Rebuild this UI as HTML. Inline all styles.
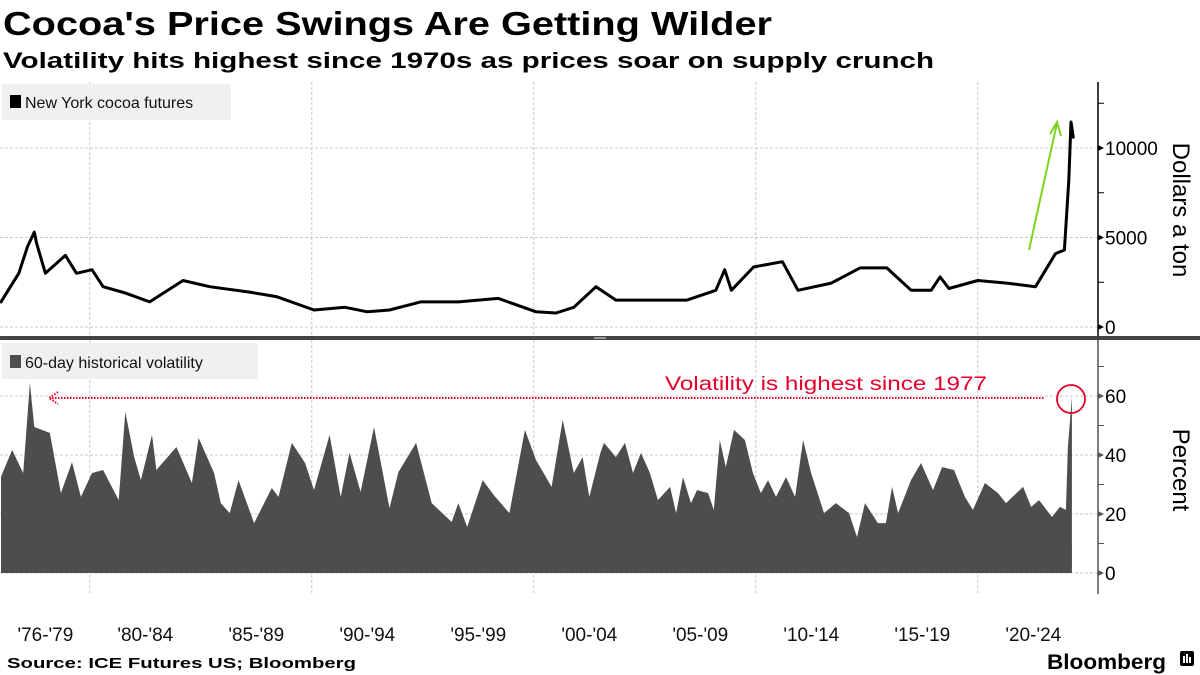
<!DOCTYPE html>
<html><head><meta charset="utf-8"><style>
html,body{margin:0;padding:0;background:#fff;}
svg{display:block;font-family:"Liberation Sans",sans-serif;}
</style></head><body>
<svg id="chart" width="1200" height="675" viewBox="0 0 1200 675" xmlns="http://www.w3.org/2000/svg">
<text x="3" y="35" font-size="33" font-weight="bold" fill="#000" textLength="769" lengthAdjust="spacingAndGlyphs">Cocoa's Price Swings Are Getting Wilder</text>
<text x="3" y="68" font-size="22" font-weight="bold" fill="#000" textLength="931" lengthAdjust="spacingAndGlyphs">Volatility hits highest since 1970s as prices soar on supply crunch</text>
<g id="grid"></g>
<g id="marks"></g>
<g id="axes"></g>
<rect x="0" y="336" width="1200" height="4" fill="#444"/>
<rect x="594" y="337" width="12" height="2" fill="#999"/>
<rect x="2" y="84" width="229" height="36" fill="#f0f0f0"/>
<rect x="10" y="95" width="11" height="13" fill="#000"/>
<text x="25" y="108" font-size="16" fill="#111">New York cocoa futures</text>
<rect x="2" y="343" width="256" height="36" fill="#f0f0f0"/>
<rect x="10" y="355" width="11" height="13" fill="#4d4d4d"/>
<text x="25" y="368" font-size="16" fill="#111">60-day historical volatility</text>
<text transform="translate(1173,210) rotate(90)" text-anchor="middle" font-size="24" fill="#000">Dollars a ton</text>
<text transform="translate(1173,470) rotate(90)" text-anchor="middle" font-size="24" fill="#000">Percent</text>
<g>
<text x="665" y="390" font-size="19" fill="#e4002b" textLength="322" lengthAdjust="spacingAndGlyphs">Volatility is highest since 1977</text>
<line x1="52" y1="398" x2="1045" y2="398" stroke="#e4002b" stroke-width="2" stroke-dasharray="1.5,1.5"/>
<path d="M58,392 L49,398 L58,404" fill="none" stroke="#e4002b" stroke-width="2" stroke-dasharray="1.5,1.5"/>
<circle cx="1071" cy="399" r="14" fill="none" stroke="#e4002b" stroke-width="1.8"/>
</g>
<g stroke="#7ed321" stroke-width="2" fill="none">
<line x1="1029" y1="250" x2="1057" y2="123"/>
<path d="M1050,134 L1057,122 L1061,136"/>
</g>
<text x="7" y="668" font-size="15" font-weight="bold" fill="#000" textLength="349" lengthAdjust="spacingAndGlyphs">Source: ICE Futures US; Bloomberg</text>
<text x="1047" y="669" font-size="21" font-weight="bold" fill="#000" textLength="119" lengthAdjust="spacingAndGlyphs">Bloomberg</text>
<g>
<rect x="1180" y="651" width="14" height="15" rx="2" fill="#000"/>
<rect x="1183" y="656" width="2" height="7" fill="#fff"/>
<rect x="1186" y="654" width="2" height="9" fill="#fff"/>
<rect x="1189" y="657" width="2" height="6" fill="#fff"/>
</g>
</svg>
<script>
const priceYears=[1976.0,1976.8,1977.2,1977.5,1977.6,1978.0,1978.9,1979.4,1980.1,1980.6,1981.6,1982.7,1984.2,1985.4,1987.2,1988.4,1990.1,1991.5,1992.5,1993.5,1994.9,1996.6,1998.4,2000.1,2001.0,2001.8,2002.8,2003.7,2005.4,2006.9,2008.2,2008.6,2008.9,2009.9,2011.2,2011.9,2013.4,2014.7,2015.9,2017.0,2017.9,2018.3,2018.7,2020.0,2021.3,2022.6,2023.5,2023.9,2024.1,2024.2,2024.3];
const priceValues=[1400,3000,4500,5300,4700,3000,4000,3000,3200,2250,1900,1400,2600,2250,1950,1700,950,1100,850,950,1400,1400,1600,850,780,1100,2250,1500,1500,1500,2050,3200,2050,3350,3650,2050,2450,3300,3300,2050,2050,2800,2150,2600,2450,2250,4100,4300,8200,11450,10600];
const volYears=[1976.0,1976.5,1977.0,1977.3,1977.5,1978.2,1978.7,1979.2,1979.6,1980.1,1980.6,1981.3,1981.6,1982.0,1982.3,1982.8,1983.0,1983.9,1984.6,1984.9,1985.6,1985.9,1986.3,1986.7,1987.4,1988.2,1988.5,1989.1,1989.7,1990.1,1990.8,1991.3,1991.7,1992.2,1992.8,1993.5,1993.9,1994.7,1995.4,1996.3,1996.6,1997.0,1997.7,1998.2,1998.9,1999.6,2000.1,2000.8,2001.3,2001.8,2002.2,2002.5,2003.0,2003.16,2003.7,2004.11,2004.47,2004.83,2005.23,2005.59,2006.14,2006.41,2006.72,2007.08,2007.35,2007.85,2008.11,2008.38,2008.65,2009.02,2009.51,2009.87,2010.23,2010.55,2010.91,2011.36,2011.77,2012.13,2012.49,2013.07,2013.61,2014.2,2014.56,2014.92,2015.5,2015.86,2016.14,2016.41,2016.99,2017.44,2017.98,2018.39,2018.93,2019.42,2019.78,2020.32,2020.91,2021.27,2022.04,2022.4,2022.76,2023.34,2023.7,2023.97,2024.06,2024.24];
const volValues=[32.6,41.7,33.9,64.4,49.5,47.5,27.1,37.6,25.8,33.9,34.9,24.7,54.6,39.3,31.5,46.8,34.9,42.7,30.5,45.8,33.9,23.7,20.3,31.5,16.9,28.8,25.8,44.1,37.3,28.1,46.8,25.8,40.7,27.5,49.5,22.0,34.2,44.1,23.7,17.3,23.7,15.6,31.5,26.4,20.3,48.5,38.3,29.2,51.9,33.9,39.3,25.8,40.7,44.1,39.3,44.1,33.9,40.7,33.9,24.7,29.2,20.3,32.5,23.7,28.1,27.1,21.4,45.1,35.9,48.5,45.1,33.9,27.1,31.5,25.8,32.5,25.8,45.1,33.9,20.3,23.7,20.3,12.2,23.7,16.9,16.9,29.2,20.3,31.5,37.3,28.1,35.9,34.9,25.8,21.4,30.5,27.1,23.7,29.2,22.4,24.7,19.0,22.4,21.4,42.7,59.7];
const priceTicks=[0,5000,10000];
const volTicks=[0,20,40,60];
const decadeYears=[1980,1990,2000,2010,2020];
const periodLabels=["'76-'79","'80-'84","'85-'89","'90-'94","'95-'99","'00-'04","'05-'09","'10-'14","'15-'19","'20-'24"];
const periodStarts=[1976,1980,1985,1990,1995,2000,2005,2010,2015,2020];
const periodEnds=[1980,1985,1990,1995,2000,2005,2010,2015,2020,2025];

const NS="http://www.w3.org/2000/svg";
const X=t=>(t-1976)*22.2+1;
const YP=v=>327-v*0.0179;
const YV=v=>573-v*2.95;
function mk(tag,attrs,parent){const e=document.createElementNS(NS,tag);for(const k in attrs)e.setAttribute(k,attrs[k]);parent.appendChild(e);return e;}
const grid=document.getElementById('grid'),marks=document.getElementById('marks'),axes=document.getElementById('axes');

priceTicks.forEach(v=>{
  const l=mk('line',{x1:0,x2:1098,y1:YP(v),y2:YP(v),stroke:'#c8c8c8','stroke-dasharray':'3,2'},grid);
  
  
  const t=mk('text',{x:1105,y:YP(v)+7,'font-size':19,fill:'#000'},axes);
  t.textContent=v;
  
  
  const tk=mk('path',{d:`M1098,${YP(v)-3} L1104,${YP(v)} L1098,${YP(v)+3}Z`,fill:'#000'},axes);
  
  
});
[2500,7500,12500].forEach(v=>{
  const tk=mk('line',{x1:1098,x2:1104,y1:YP(v),y2:YP(v),stroke:'#000'},axes);
  
  
});
volTicks.forEach(v=>{
  const l=mk('line',{x1:0,x2:1098,y1:YV(v),y2:YV(v),stroke:'#c8c8c8','stroke-dasharray':'3,2'},grid);
  
  
  const t=mk('text',{x:1105,y:YV(v)+7,'font-size':19,fill:'#000'},axes);
  t.textContent=v;
  
  
  const tk=mk('path',{d:`M1098,${YV(v)-3} L1104,${YV(v)} L1098,${YV(v)+3}Z`,fill:'#555'},axes);
  
  
});
[10,30,50,70].forEach(v=>{
  const tk=mk('line',{x1:1098,x2:1104,y1:YV(v),y2:YV(v),stroke:'#555'},axes);
  
  
});
decadeYears.forEach(y=>{
  const l=mk('line',{x1:X(y),x2:X(y),y1:82,y2:336,stroke:'#c8c8c8','stroke-dasharray':'3,2'},grid);
  
  
  const l2=mk('line',{x1:X(y),x2:X(y),y1:340,y2:595,stroke:'#c8c8c8','stroke-dasharray':'3,2'},grid);
  
  
});
periodLabels.forEach((s,i)=>{
  const t=mk('text',{x:X((periodStarts[i]+periodEnds[i])/2),y:641,'font-size':19,fill:'#111','text-anchor':'middle'},axes);
  t.textContent=s;
  
  
});
const ax1=mk('line',{x1:1098,x2:1098,y1:82,y2:336,stroke:'#000','stroke-width':1.5},axes);


const ax2=mk('line',{x1:1098,x2:1098,y1:340,y2:594,stroke:'#555','stroke-width':1.5},axes);



let d='M'+X(volYears[0])+','+YV(0);
volYears.forEach((y,i)=>{d+=' L'+X(y).toFixed(1)+','+YV(volValues[i]).toFixed(1);});
d+=' L'+X(volYears[volYears.length-1])+','+YV(0)+'Z';
const area=mk('path',{d:d,fill:'#4d4d4d'},marks);



let p='';
priceYears.forEach((y,i)=>{p+=(i?' L':'M')+X(y).toFixed(1)+','+YP(priceValues[i]).toFixed(1);});
const line=mk('path',{d:p,fill:'none',stroke:'#000','stroke-width':3,'stroke-linejoin':'round','stroke-linecap':'round'},marks);


</script>
</body></html>
